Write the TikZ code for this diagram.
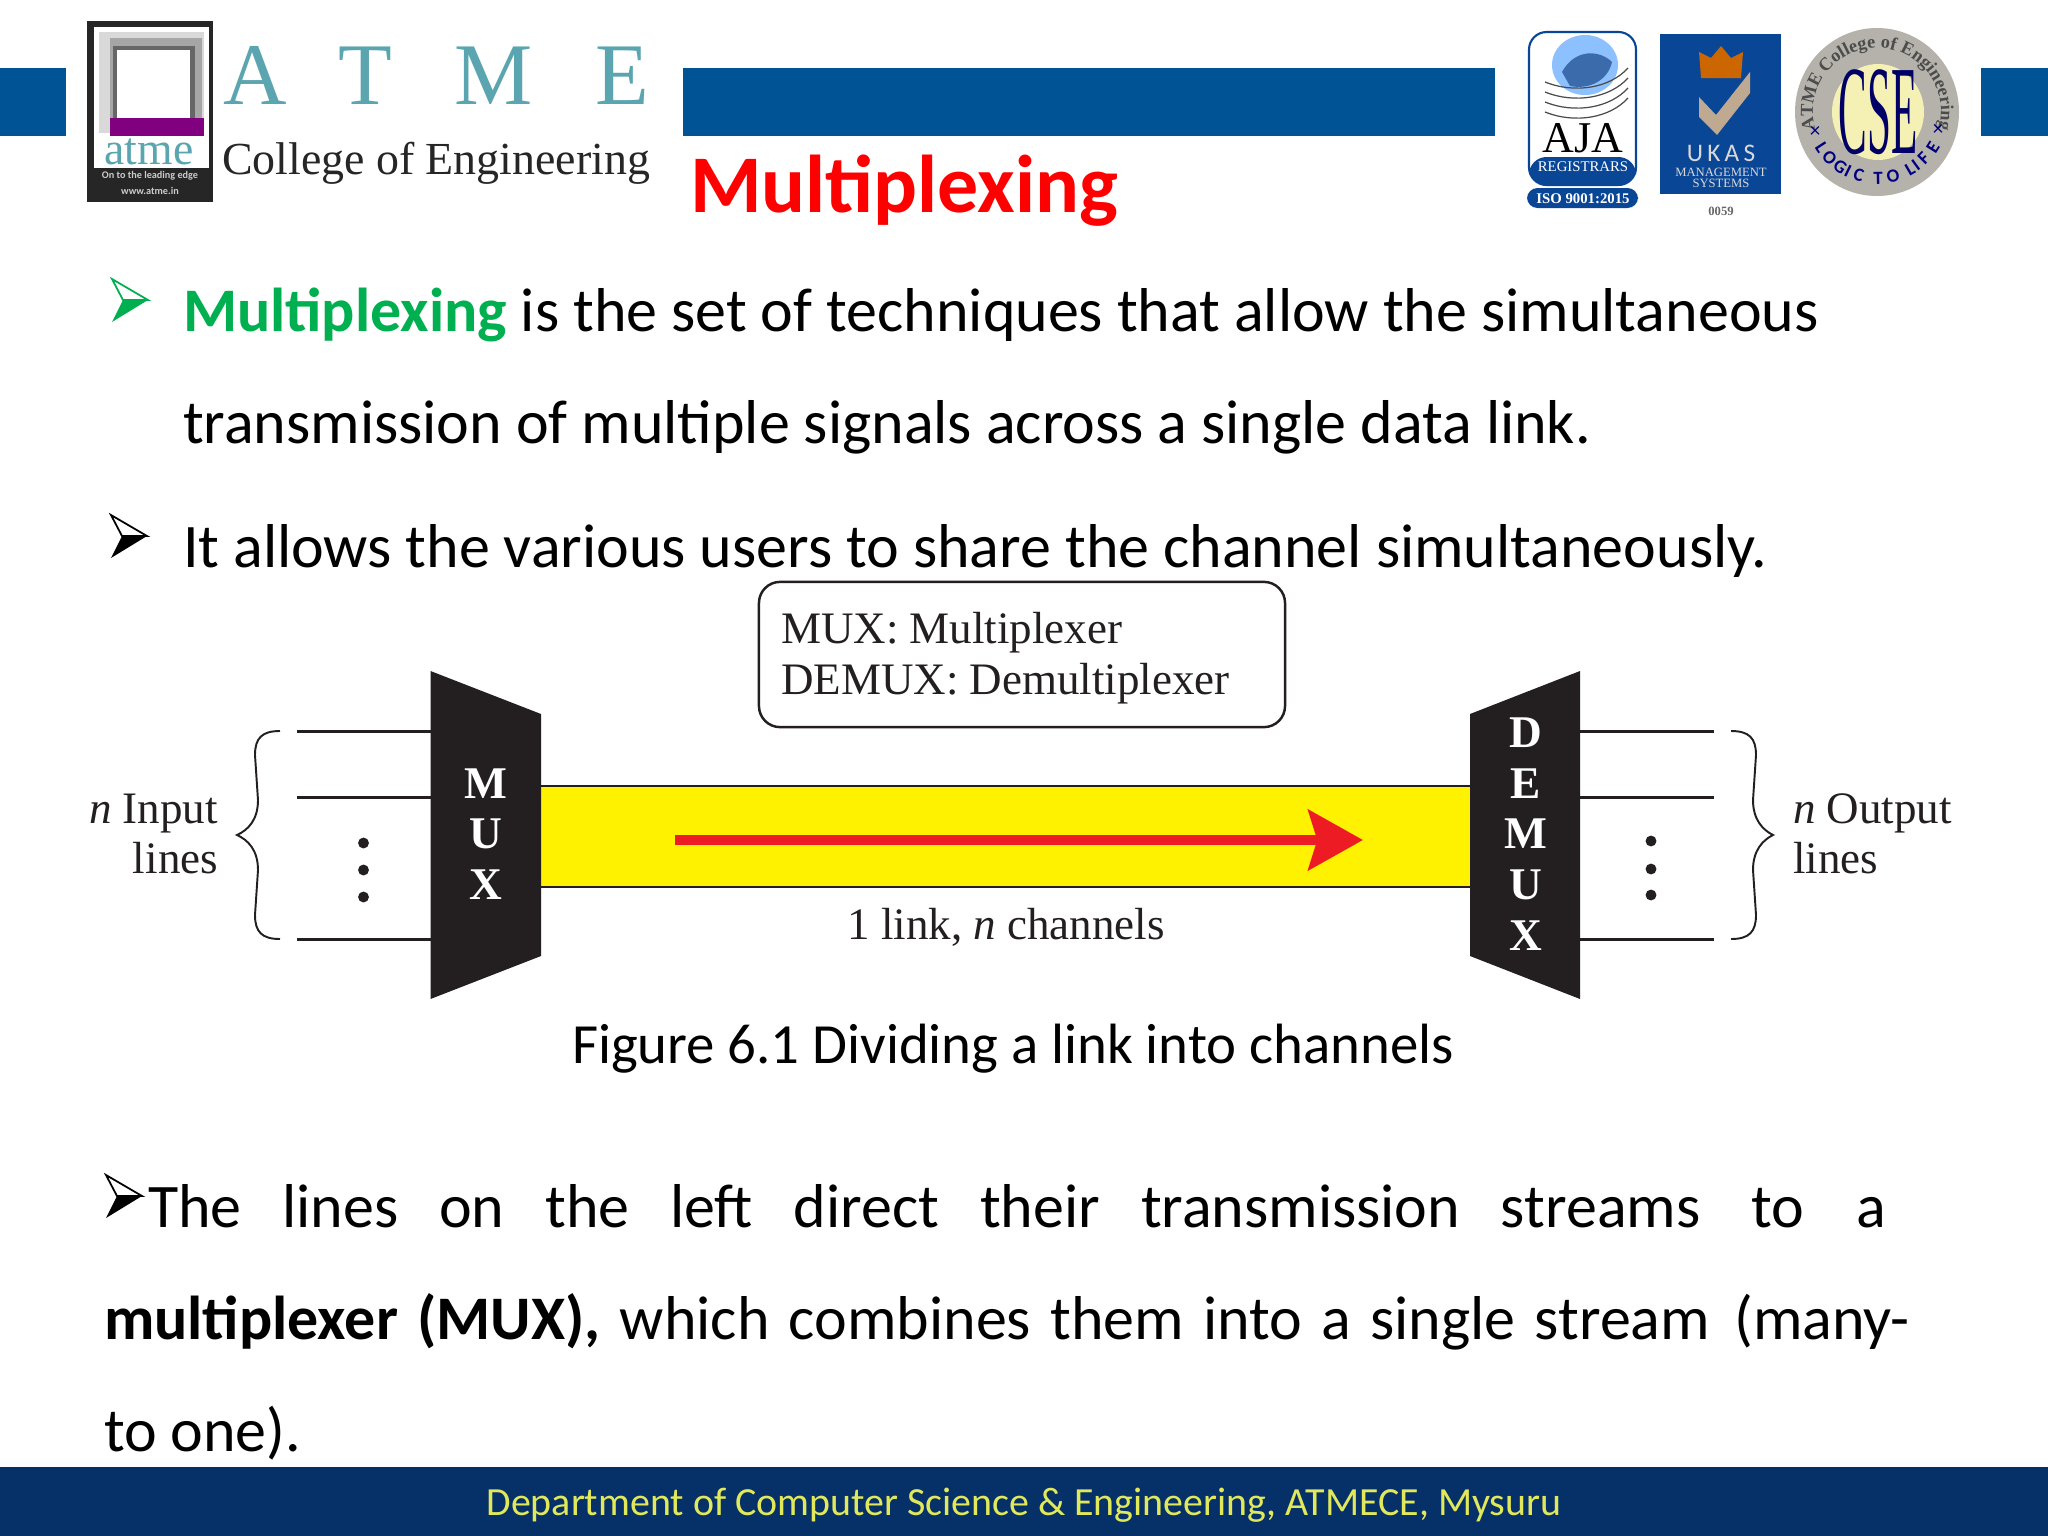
\documentclass[tikz,border=0pt]{standalone}
\usepackage{fontspec}
\setmainfont{Carlito}
\newfontfamily\serif{Liberation Serif}
\usetikzlibrary{arrows.meta,decorations.text,calc}
\definecolor{barblue}{RGB}{0,84,150}
\definecolor{footblue}{RGB}{6,48,104}
\definecolor{atmeteal}{RGB}{90,165,175}
\definecolor{figink}{RGB}{35,31,32}
\definecolor{ukasblue}{RGB}{10,70,150}
\definecolor{sealgray}{RGB}{180,178,170}
\definecolor{sealyellow}{RGB}{245,240,180}
\definecolor{keygreen}{RGB}{0,176,80}
\definecolor{flowred}{RGB}{237,28,36}
\definecolor{tapeyellow}{RGB}{255,242,0}
\definecolor{footyellow}{RGB}{225,232,90}
\definecolor{logopurple}{RGB}{128,0,128}
\begin{document}
\begin{tikzpicture}[
  x=0.01cm, y=-0.01cm,
  every node/.style={inner sep=0pt, outer sep=0pt},
  bodytext/.style={anchor=base west, font=\fontsize{17.62}{21}\selectfont, text=black},
  figlabel/.style={font=\serif\fontsize{12.8}{14.2}\selectfont, text=figink},
  muxshape/.style={fill=figink, draw=none},
  muxlabel/.style={font=\serif\bfseries\fontsize{12.9}{14.4}\selectfont, text=white, align=center},
  signal/.style={draw=figink, line width=0.85pt},
  curly/.style={draw=figink, line width=0.55pt},
  dot/.style={circle, fill=figink, minimum size=3.1pt},
  logotext/.style={font=\serif\fontsize{25}{30}\selectfont, text=atmeteal, anchor=base},
  sealmark/.style={font=\fontsize{5.3}{6}\bfseries\selectfont, text=blue!50!black},
  dart/.pic={
    \draw[line width=0.5pt, line join=miter, draw=#1] (0,-21) -- (36,0) -- (11,0) -- cycle;
    \fill[#1] (0,22) -- (36,0) -- (11,0) -- cycle;
  }
]
  \useasboundingbox (0,0) rectangle (2048,1536);
  \fill[white] (0,0) rectangle (2048,1536);

  % header bars
  \fill[barblue] (0,68) rectangle (66,136);
  \fill[barblue] (683,68) rectangle (1495,136);
  \fill[barblue] (1981,68) rectangle (2048,136);

  % college logo
  \fill[black!85] (87,21) rectangle (213,202);
  \fill[white] (94,27) rectangle (209,168);
  \fill[black!15] (99,32) rectangle (204,133);
  \fill[black!35] (110,38) rectangle (202,133);
  \fill[black!60] (113,46) rectangle (195,125);
  \fill[white] (117,50) rectangle (190,118);
  \fill[white] (99,133) rectangle (204,168);
  \fill[logopurple] (110,118) rectangle (204,136);
  \node[font=\serif\fontsize{13}{15}\selectfont, text=atmeteal] (atme) at (149,152) {atme};
  \node[font=\fontsize{2.9}{3}\selectfont\bfseries, text=black!20] (edge) at (150,176) {On to the leading edge};
  \node[font=\fontsize{2.9}{3}\selectfont\bfseries, text=black!20] (www) at (150,191) {www.atme.in};
  \node[logotext] (la) at (255,104) {A};
  \node[logotext] (lt) at (365,104) {T};
  \node[logotext] (lm) at (494,104) {M};
  \node[logotext] (le) at (622,104) {E};
  \node[anchor=base west, font=\serif\fontsize{13.05}{15}\selectfont, text=black!85] (college) at (222,174) {College of Engineering};

  % aja badge
  \draw[ukasblue, line width=0.6pt, rounded corners=5pt, fill=white] (1529,32) rectangle (1636,185);
  \fill[ukasblue, rounded corners=5pt] (1529,157) rectangle (1636,185);
  \fill[ukasblue, rounded corners=3pt] (1527,188) rectangle (1638,208);
  \fill[blue!55!cyan!45] (1585,65) ellipse (33 and 30);
  \fill[ukasblue!80] (1562,72) .. controls (1575,48) and (1600,50) .. (1612,62) .. controls (1608,80) and (1590,90) .. (1570,86) -- cycle;
  \foreach \arcy in {82,92,102,112}
    \draw[black!70, line width=0.35pt] (1545,\arcy) .. controls (1575,\arcy+12) and (1610,\arcy+6) .. (1628,\arcy-14);
  \node[font=\serif\fontsize{12.5}{14}\selectfont, text=black] (aja) at (1583,138) {AJA};
  \node[font=\serif\fontsize{4.2}{5}\selectfont, text=white] (registrars) at (1583,167) {REGISTRARS};
  \node[font=\serif\bfseries\fontsize{4.2}{5}\selectfont, text=white] (iso) at (1583,199) {ISO 9001:2015};

  % ukas badge
  \fill[ukasblue] (1660,34) rectangle (1781,194);
  \fill[orange!80!black] (1699,52) -- (1711,58) -- (1721,46) -- (1731,58) -- (1743,52) -- (1741,78) -- (1701,78) -- cycle;
  \fill[sealgray!85!orange] (1699,97) -- (1716,115) -- (1750,72) -- (1750,93) -- (1717,135) -- (1699,117) -- cycle;
  \node[font=\fontsize{7.2}{8}\selectfont, text=black!15] (ukas) at (1721,153) {U\,K\,A\,S};
  \node[font=\serif\fontsize{3.6}{4}\selectfont, text=black!15] (mgmt) at (1721,172) {MANAGEMENT};
  \node[font=\serif\fontsize{3.6}{4}\selectfont, text=black!15] (systems) at (1721,183) {SYSTEMS};
  \node[font=\serif\bfseries\fontsize{3.6}{4}\selectfont, text=black!60] (num) at (1721,211) {0059};

  % cse seal
  \fill[sealgray] (1877,112) ellipse (82 and 84);
  \fill[sealyellow] (1878,112) ellipse (46 and 48);
  \node[font=\serif\fontsize{36}{40}\selectfont, text=blue!40!black, xscale=0.34] (cse) at (1878,112) {CSE};
  \path[decorate, decoration={text along path, text align=center,
    text={|\serif\bfseries\fontsize{5.2}{6}\selectfont\color{black!70}|ATME College of Engineering}}]
    (1877,112) ++(165:64) arc[start angle=165, end angle=375, radius=64];
  \foreach \ch/\ang in {L/147,O/136,G/124,I/116,C/106,T/89,O/76,L/60,I/54,F/45,E/32}
    \node[sealmark, rotate=90-\ang] at ($(1877,112)+(\ang:66)$) {\ch};
  \node[font=\fontsize{6}{7}\selectfont, text=blue!50!black] (crossa) at (1815,132) {×};
  \node[font=\fontsize{6}{7}\selectfont, text=blue!50!black] (crossb) at (1938,130) {×};

  % title and first bullets
  \node[anchor=base west, font=\fontsize{23.3}{28}\bfseries\selectfont, text=red] (title) at (690,212) {Multiplexing};
  \pic at (112,300) {dart=keygreen};
  \node[bodytext] (lineone) at (183,331) {\textcolor{keygreen}{\bfseries Multiplexing} is the set of techniques that allow the simultaneous};
  \node[bodytext] (linetwo) at (183,443) {transmission of multiple signals across a single data link.};
  \pic at (111,536) {dart=black};
  \node[bodytext] (linethree) at (183,567) {It allows the various users to share the channel simultaneously.};

  % figure
  \node[draw=figink, line width=0.7pt, rounded corners=6pt, minimum width=149.6pt, minimum height=41.3pt] (legend) at (1022,654.5) {};
  \node[figlabel, anchor=base west] (muxname) at (781,643) {MUX: Multiplexer};
  \node[figlabel, anchor=base west] (demuxname) at (781,694) {DEMUX: Demultiplexer};

  \fill[tapeyellow] (541,786) rectangle (1470,887);
  \coordinate (tapenw) at (541,786);
  \coordinate (tapene) at (1470,786);
  \coordinate (tapesw) at (541,887);
  \coordinate (tapese) at (1470,887);
  \draw[signal, line width=0.6pt] (tapenw) -- (tapene);
  \draw[signal, line width=0.6pt] (tapesw) -- (tapese);
  \coordinate (flowa) at (675,840);
  \coordinate (flowb) at (1363,840);
  \draw[draw=flowred, line width=3.1pt, -{Stealth[length=15.5pt, width=17pt, inset=2.5pt]}] (flowa) -- (flowb);

  \fill[muxshape] (430.5,671) -- (541,714) -- (541,956) -- (430.5,999) -- cycle;
  \fill[muxshape] (1470,714) -- (1580,671) -- (1580,999) -- (1470,956) -- cycle;
  \node[muxlabel] (mux) at (486,834) {M\\U\\X};
  \node[muxlabel] (demux) at (1525.5,834) {D\\E\\M\\U\\X};

  % input and output lines
  \foreach \liney in {731,797,939} {
    \coordinate (ina) at (297,\liney);
    \coordinate (inb) at (430.5,\liney);
    \coordinate (outa) at (1580,\liney);
    \coordinate (outb) at (1714,\liney);
    \draw[signal] (ina) -- (inb);
    \draw[signal] (outa) -- (outb);
  }
  \node[dot] (dotina) at (363.5,843) {};
  \node[dot] (dotinb) at (363.5,870) {};
  \node[dot] (dotinc) at (363.5,897) {};
  \node[dot] (dotouta) at (1651,841) {};
  \node[dot] (dotoutb) at (1651,869) {};
  \node[dot] (dotoutc) at (1651,895) {};

  \draw[curly] (280,731) .. controls (262,731) and (255,738) .. (255,755)
    -- (258,800) .. controls (258,820) and (248,830) .. (237,835)
    .. controls (248,840) and (258,850) .. (258,870)
    -- (255,915) .. controls (255,932) and (262,939) .. (280,939);
  \draw[curly] (1731,731) .. controls (1749,731) and (1756,738) .. (1756,755)
    -- (1753,800) .. controls (1753,820) and (1763,830) .. (1773,835)
    .. controls (1763,840) and (1753,850) .. (1753,870)
    -- (1756,915) .. controls (1756,932) and (1749,939) .. (1731,939);

  \node[figlabel, anchor=base east] (inputone) at (218,823) {\textit{n} Input};
  \node[figlabel, anchor=base east] (inputtwo) at (218,873) {lines};
  \node[figlabel, anchor=base west] (outputone) at (1793,823) {\textit{n} Output};
  \node[figlabel, anchor=base west] (outputtwo) at (1793,873) {lines};
  \node[figlabel, anchor=base] (linklabel) at (1006,939) {1 link, \textit{n} channels};
  \node[anchor=base, font=\fontsize{16.15}{19}\selectfont, text=black] (caption) at (1013,1063) {Figure 6.1 Dividing a link into channels};

  % last paragraph
  \pic at (106,1196) {dart=black};
  \node[bodytext] (paraone) at (148,1227) {\makebox[494.2pt][s]{The lines on the left direct their transmission streams\kern3pt{} to\kern3pt{} a}};
  \node[bodytext] (paratwo) at (104,1339) {\makebox[513.5pt][s]{\textbf{multiplexer (MUX),} which combines them into a single stream\kern1.5pt{} (many-}};
  \node[bodytext] (parathree) at (104,1451) {to one).};

  % footer
  \fill[footblue] (0,1467) rectangle (2048,1536);
  \node[font=\fontsize{11.35}{14}\selectfont, text=footyellow] (footer) at (1024,1505) {Department of Computer Science \& Engineering, ATMECE, Mysuru};
\end{tikzpicture}
\end{document}
